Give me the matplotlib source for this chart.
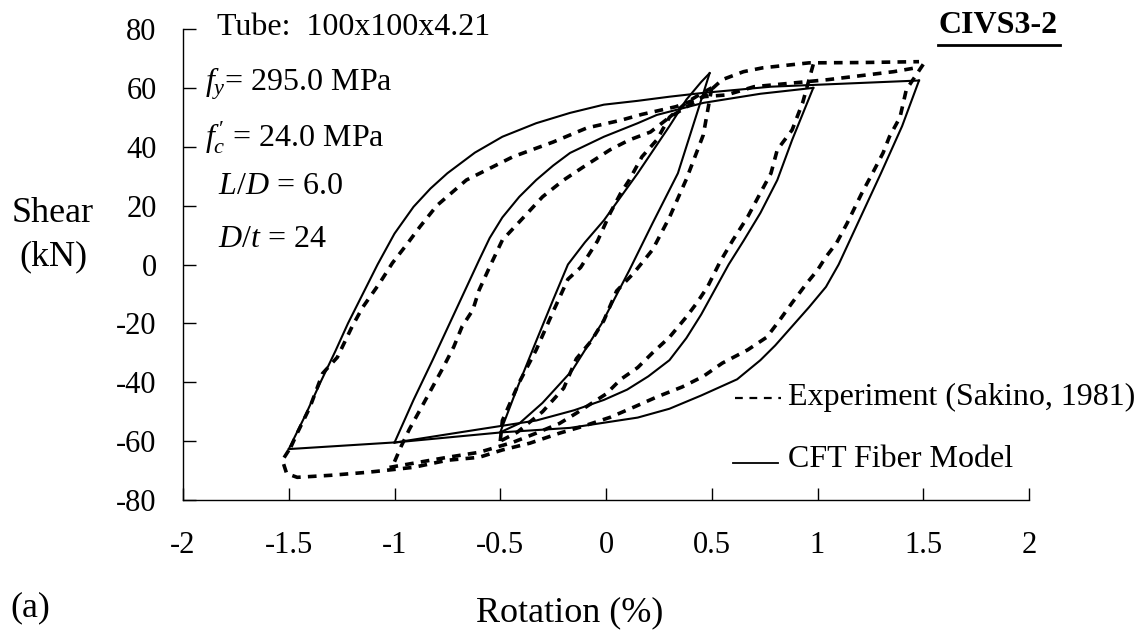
import numpy as np
import matplotlib.pyplot as plt
from matplotlib.lines import Line2D

# ------------------------------------------------------------
# style
# ------------------------------------------------------------
plt.rcParams.update({
    "font.family": "Liberation Serif",
    "mathtext.fontset": "custom",
    "mathtext.rm": "Liberation Serif",
    "mathtext.it": "Liberation Serif:italic",
    "mathtext.bf": "Liberation Serif:bold",
    "axes.unicode_minus": False,
    "axes.linewidth": 1.0,
})

# ------------------------------------------------------------
# axis ticks
# ------------------------------------------------------------
x_ticks = [-2, -1.5, -1, -0.5, 0, 0.5, 1, 1.5, 2]
x_tick_labels = ["-2", "-1.5", "-1", "-0.5", "0", "0.5", "1", "1.5", "2"]
y_ticks = [-80, -60, -40, -20, 0, 20, 40, 60, 80]
y_tick_labels = ["-80", "-60", "-40", "-20", "0", "20", "40", "60", "80"]

# ------------------------------------------------------------
# CFT fiber model, branches (rotation %, shear kN)
# ------------------------------------------------------------
model_up05_rot = [-0.50, -0.42, -0.33, -0.25, -0.18, -0.10, -0.01, 0.15, 0.30, 0.38, 0.45, 0.49]
model_up05_shear = [-57.0, -42.0, -26.0, -12.0, 0.0, 7.5, 15.0, 31.0, 47.0, 56.0, 62.0, 65.0]

model_dn05_rot = [0.49, 0.44, 0.34, 0.22, 0.11, -0.02, -0.16, -0.30, -0.41, -0.50]
model_dn05_shear = [65.0, 53.6, 31.0, 14.0, -2.0, -20.0, -36.0, -47.0, -54.0, -57.0]

model_up10_rot = [-1.00, -0.91, -0.82, -0.71, -0.60, -0.55, -0.49, -0.41, -0.33, -0.25,
                  -0.17, -0.01, 0.15, 0.24, 0.46, 0.73, 0.98]
model_up10_shear = [-60.5, -46.0, -32.5, -15.5, 1.5, 9.0, 16.0, 23.0, 28.7, 33.6,
                    37.9, 43.4, 48.0, 50.8, 54.9, 58.0, 60.0]

model_dn10_rot = [0.98, 0.88, 0.81, 0.73, 0.65, 0.58, 0.45, 0.38, 0.30, 0.20, 0.10,
                  -0.01, -0.15, -0.33, -0.60, -1.00]
model_dn10_shear = [60.0, 42.3, 28.7, 17.5, 8.0, 0.0, -17.0, -25.0, -32.5, -38.0, -42.5,
                    -46.0, -49.5, -53.0, -56.0, -60.5]

model_up15_rot = [-1.50, -1.42, -1.35, -1.28, -1.22, -1.15, -1.08, -1.00, -0.91, -0.83,
                  -0.75, -0.62, -0.49, -0.33, -0.17, -0.01, 0.15, 0.30, 0.46, 0.78,
                  0.98, 1.48]
model_up15_shear = [-62.7, -51.0, -40.0, -29.5, -20.0, -10.0, 0.0, 10.5, 19.6, 25.8,
                    31.0, 38.0, 43.4, 48.0, 51.5, 54.3, 55.6, 57.0, 58.3, 60.4,
                    61.0, 62.5]

model_dn15_rot = [1.48, 1.40, 1.30, 1.20, 1.10, 1.04, 0.96, 0.88, 0.80, 0.73, 0.62,
                  0.45, 0.30, 0.15, -0.17, -0.49, -0.99, -1.50]
model_dn15_shear = [62.5, 47.0, 31.0, 15.5, 0.0, -7.6, -14.5, -21.0, -27.5, -32.5, -39.0,
                    -44.5, -49.0, -52.0, -55.5, -57.0, -60.4, -62.7]

# ------------------------------------------------------------
# experiment (Sakino, 1981), branches
# ------------------------------------------------------------
exp_up05_rot = [-0.50, -0.49, -0.41, -0.33, -0.25, -0.18, -0.12, -0.04, 0.02, 0.07, 0.11,
                0.17, 0.24, 0.30, 0.38, 0.46, 0.50]
exp_up05_shear = [-60.0, -53.0, -40.0, -29.0, -16.0, -5.0, -1.0, 8.0, 17.5, 24.3, 28.7,
                  36.6, 42.3, 50.0, 55.0, 58.5, 60.0]

exp_dn05_rot = [0.50, 0.46, 0.38, 0.30, 0.22, 0.13, 0.05, -0.01, -0.07, -0.14, -0.20,
                -0.30, -0.42, -0.50]
exp_dn05_shear = [60.0, 44.0, 29.0, 16.0, 5.0, -3.0, -9.0, -19.0, -26.0, -32.0, -42.0,
                  -50.0, -57.0, -60.0]

exp_up10_rot = [-1.00, -0.97, -0.93, -0.88, -0.82, -0.77, -0.72, -0.68, -0.63, -0.60,
                -0.55, -0.49, -0.39, -0.30, -0.20, -0.11, 0.02, 0.11, 0.21, 0.30,
                0.46, 0.55, 0.65, 0.74, 0.96, 1.20, 1.48]
exp_up10_shear = [-67.0, -62.0, -56.0, -49.5, -41.6, -35.0, -28.0, -21.0, -15.5, -8.7,
                  -0.8, 8.3, 16.0, 23.0, 28.7, 33.0, 39.0, 42.3, 45.0, 50.0,
                  57.0, 62.8, 65.5, 66.8, 68.5, 68.6, 68.9]

exp_dn10_rot = [0.98, 0.93, 0.88, 0.81, 0.78, 0.73, 0.67, 0.60, 0.54, 0.48, 0.43, 0.38,
                0.30, 0.22, 0.15, 0.07, 0.00, -0.14, -0.22, -0.33, -0.44, -0.60, -0.75,
                -0.91, -1.03]
exp_dn10_shear = [68.0, 55.0, 45.7, 39.0, 31.0, 24.3, 16.2, 8.3, 1.0, -7.6, -13.0, -17.8,
                  -24.7, -30.0, -35.0, -39.0, -44.0, -50.5, -54.0, -57.3, -60.4, -63.8, -65.5,
                  -67.5, -69.0]

exp_up15_rot = [-1.49, -1.46, -1.40, -1.34, -1.27, -1.20, -1.15, -1.07, -1.01, -0.94,
                -0.88, -0.80, -0.66, -0.44, -0.25, -0.09, 0.07, 0.17, 0.33, 0.46,
                0.57, 0.70, 1.05, 1.36, 1.48]
exp_up15_shear = [-62.0, -57.3, -48.5, -37.0, -31.5, -21.0, -14.5, -6.3, 0.5, 7.0,
                  12.8, 20.0, 28.7, 36.6, 41.6, 46.4, 49.0, 51.0, 53.6, 57.0,
                  57.6, 60.4, 62.8, 65.5, 67.0]

exp_dn15_rot = [1.50, 1.42, 1.39, 1.34, 1.31, 1.26, 1.21, 1.14, 1.09, 1.04, 1.00, 0.95,
                0.88, 0.82, 0.76, 0.67, 0.55, 0.46, 0.36, 0.24, 0.13, 0.02, -0.11, -0.22,
                -0.36, -0.49, -0.60, -0.75, -0.91, -1.05, -1.13, -1.30, -1.46, -1.51,
                -1.53, -1.49]
exp_dn15_shear = [68.0, 59.4, 50.0, 43.4, 37.9, 31.0, 24.3, 14.0, 7.3, 2.6, -1.9, -6.3,
                  -13.0, -19.0, -24.7, -29.0, -33.5, -38.0, -41.6, -45.0, -48.5, -51.9, -55.0, -57.3,
                  -60.7, -63.0, -65.5, -66.5, -68.9, -70.0, -70.6, -71.6, -72.3, -71.0,
                  -66.5, -62.0]

model_branches = [
    (model_up05_rot, model_up05_shear), (model_dn05_rot, model_dn05_shear),
    (model_up10_rot, model_up10_shear), (model_dn10_rot, model_dn10_shear),
    (model_up15_rot, model_up15_shear), (model_dn15_rot, model_dn15_shear),
]
exp_branches = [
    (exp_up05_rot, exp_up05_shear), (exp_dn05_rot, exp_dn05_shear),
    (exp_up10_rot, exp_up10_shear), (exp_dn10_rot, exp_dn10_shear),
    (exp_up15_rot, exp_up15_shear), (exp_dn15_rot, exp_dn15_shear),
]

# ------------------------------------------------------------
# figure
# ------------------------------------------------------------
W, H = 1144, 639
fig = plt.figure(figsize=(W / 100, H / 100), dpi=100)
ax = fig.add_axes([183 / W, 1 - 500 / H, (1029 - 183) / W, (500 - 29) / H])

for xs, ys in exp_branches:
    ax.plot(xs, ys, color="black", lw=2.6, dashes=(2.4, 2.0), solid_capstyle="butt")
for xs, ys in model_branches:
    ax.plot(xs, ys, color="black", lw=1.5)

ax.set_xlim(-2, 2)
ax.set_ylim(-80, 80)
ax.set_xticks(x_ticks)
ax.set_xticklabels(x_tick_labels)
ax.set_yticks(y_ticks)
ax.set_yticklabels(y_tick_labels)
for s in ["top", "right"]:
    ax.spines[s].set_visible(False)
ax.tick_params(axis="x", direction="in", length=9, width=1.0, labelsize=22, pad=22)
ax.tick_params(axis="y", direction="in", length=9, width=1.0, labelsize=22, pad=19)


def ftext(x, y, s, **kw):
    # place text by pixel position on the canvas
    fig.text(x / W, 1 - y / H, s, **kw)


ftext(53, 214, "Shear", fontsize=26, ha="center", va="center")
ftext(53, 257, "(kN)", fontsize=26, ha="center", va="center")
ftext(570, 613, "Rotation (%)", fontsize=26, ha="center", va="center")
ftext(10, 608, "(a)", fontsize=26, ha="left", va="center")

ftext(217, 35, "Tube:  100x100x4.21", fontsize=23, va="baseline")
ftext(205, 90, r"$f_y$= 295.0 MPa", fontsize=23, va="baseline")
ftext(205, 146, r"$f_c^{\,\prime}$ = 24.0 MPa", fontsize=23, va="baseline")
ftext(218, 194, r"$L/D$ = 6.0", fontsize=23, va="baseline")
ftext(218, 247, r"$D/t$ = 24", fontsize=23, va="baseline")

ftext(1058, 33, "CIVS3-2", fontsize=23, fontweight="bold", ha="right", va="baseline")
fig.add_artist(Line2D([938 / W, 1060 / W], [1 - 45 / H, 1 - 45 / H], color="black", lw=2))

# legend
fig.add_artist(Line2D([735 / W, 781 / W], [1 - 398 / H, 1 - 398 / H], color="black",
                      lw=1.6, dashes=(3.5, 3.0)))
ftext(788, 405, "Experiment (Sakino, 1981)", fontsize=23, va="baseline")
fig.add_artist(Line2D([733 / W, 778 / W], [1 - 463 / H, 1 - 463 / H], color="black", lw=1.3))
ftext(788, 467, "CFT Fiber Model", fontsize=23, va="baseline")

fig.savefig("out.png", dpi=100, facecolor="white")
